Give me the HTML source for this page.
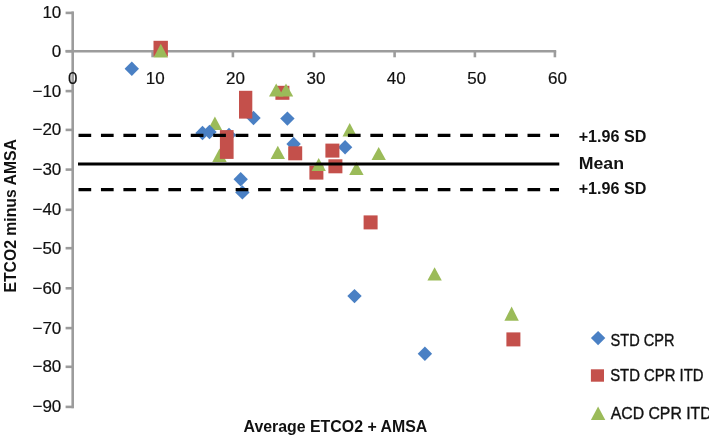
<!DOCTYPE html>
<html><head><meta charset="utf-8"><style>
html,body{margin:0;padding:0;background:#fff;width:709px;height:438px;overflow:hidden}
svg{display:block;will-change:transform;filter:blur(0.35px)}
text{font-family:"Liberation Sans",sans-serif;fill:#111}
.t{font-size:17px} .t text{stroke:#111;stroke-width:0.2px} .l text{stroke:#111;stroke-width:0.35px}
.b{font-size:16.5px;font-weight:bold}
.l{font-size:16px}
</style></head><body>
<svg width="709" height="438" viewBox="0 0 709 438">
<rect width="709" height="438" fill="#fff"/>
<g><line x1="72.7" y1="11.6" x2="72.7" y2="408.2" stroke="#9c9c9c" stroke-width="2.6"/><line x1="65.6" y1="12.9" x2="73.5" y2="12.9" stroke="#9c9c9c" stroke-width="2.6"/><line x1="65.6" y1="51.2" x2="73.5" y2="51.2" stroke="#9c9c9c" stroke-width="2.6"/><line x1="65.6" y1="91.1" x2="73.5" y2="91.1" stroke="#9c9c9c" stroke-width="2.6"/><line x1="65.6" y1="129.9" x2="73.5" y2="129.9" stroke="#9c9c9c" stroke-width="2.6"/><line x1="65.6" y1="169.6" x2="73.5" y2="169.6" stroke="#9c9c9c" stroke-width="2.6"/><line x1="65.6" y1="209.8" x2="73.5" y2="209.8" stroke="#9c9c9c" stroke-width="2.6"/><line x1="65.6" y1="248.2" x2="73.5" y2="248.2" stroke="#9c9c9c" stroke-width="2.6"/><line x1="65.6" y1="288.3" x2="73.5" y2="288.3" stroke="#9c9c9c" stroke-width="2.6"/><line x1="65.6" y1="328.1" x2="73.5" y2="328.1" stroke="#9c9c9c" stroke-width="2.6"/><line x1="65.6" y1="366.8" x2="73.5" y2="366.8" stroke="#9c9c9c" stroke-width="2.6"/><line x1="65.6" y1="406.9" x2="73.5" y2="406.9" stroke="#9c9c9c" stroke-width="2.6"/><line x1="65.6" y1="51.2" x2="556.2" y2="51.2" stroke="#9c9c9c" stroke-width="2.6"/><line x1="152.6" y1="51.2" x2="152.6" y2="57.3" stroke="#9c9c9c" stroke-width="2.6"/><line x1="232.9" y1="51.2" x2="232.9" y2="57.3" stroke="#9c9c9c" stroke-width="2.6"/><line x1="314.0" y1="51.2" x2="314.0" y2="57.3" stroke="#9c9c9c" stroke-width="2.6"/><line x1="394.6" y1="51.2" x2="394.6" y2="57.3" stroke="#9c9c9c" stroke-width="2.6"/><line x1="474.9" y1="51.2" x2="474.9" y2="57.3" stroke="#9c9c9c" stroke-width="2.6"/><line x1="554.9" y1="51.2" x2="554.9" y2="57.3" stroke="#9c9c9c" stroke-width="2.6"/></g>
<g class="t"><text x="61.3" y="18.3" text-anchor="end">10</text><text x="61.3" y="56.6" text-anchor="end">0</text><text x="61.3" y="96.5" text-anchor="end">−10</text><text x="61.3" y="135.3" text-anchor="end">−20</text><text x="61.3" y="175.0" text-anchor="end">−30</text><text x="61.3" y="215.2" text-anchor="end">−40</text><text x="61.3" y="253.6" text-anchor="end">−50</text><text x="61.3" y="293.7" text-anchor="end">−60</text><text x="61.3" y="333.5" text-anchor="end">−70</text><text x="61.3" y="372.2" text-anchor="end">−80</text><text x="61.3" y="412.3" text-anchor="end">−90</text><text x="72.8" y="84.4" text-anchor="middle">0</text><text x="155.2" y="84.4" text-anchor="middle">10</text><text x="235.5" y="84.4" text-anchor="middle">20</text><text x="316.0" y="84.4" text-anchor="middle">30</text><text x="396.3" y="84.4" text-anchor="middle">40</text><text x="476.8" y="84.4" text-anchor="middle">50</text><text x="557.4" y="84.4" text-anchor="middle">60</text></g>
<g><path d="M219.5 148.5L226.7 162.0L212.3 162.0Z" fill="#9BBB59"/><path d="M214.9 116.5L222.1 130.0L207.7 130.0Z" fill="#9BBB59"/><path d="M131.8 61.5L139.0 68.7L131.8 75.9L124.6 68.7Z" fill="#4A80C4"/><path d="M202.5 125.8L209.7 133.0L202.5 140.2L195.3 133.0Z" fill="#4A80C4"/><path d="M209.5 124.8L216.7 132.0L209.5 139.2L202.3 132.0Z" fill="#4A80C4"/><path d="M229.0 127.8L236.2 135.0L229.0 142.2L221.8 135.0Z" fill="#4A80C4"/><path d="M253.5 110.8L260.7 118.0L253.5 125.2L246.3 118.0Z" fill="#4A80C4"/><path d="M240.7 172.0L247.9 179.2L240.7 186.4L233.5 179.2Z" fill="#4A80C4"/><path d="M242.4 185.2L249.6 192.4L242.4 199.6L235.2 192.4Z" fill="#4A80C4"/><path d="M287.4 111.4L294.6 118.6L287.4 125.8L280.2 118.6Z" fill="#4A80C4"/><path d="M293.6 136.8L300.8 144.0L293.6 151.2L286.4 144.0Z" fill="#4A80C4"/><path d="M345.1 140.1L352.3 147.3L345.1 154.5L337.9 147.3Z" fill="#4A80C4"/><path d="M354.5 288.9L361.7 296.1L354.5 303.3L347.3 296.1Z" fill="#4A80C4"/><path d="M424.9 346.5L432.1 353.7L424.9 360.9L417.7 353.7Z" fill="#4A80C4"/><rect x="153.5" y="40.8" width="14.4" height="15.7" fill="#C4504B"/><rect x="239.0" y="90.8" width="13.3" height="27.8" fill="#C4504B"/><rect x="219.9" y="130.1" width="13.7" height="28.8" fill="#C4504B"/><rect x="275.4" y="85.8" width="14.0" height="14.0" fill="#C4504B"/><rect x="288.2" y="146.3" width="14.0" height="14.0" fill="#C4504B"/><rect x="309.4" y="165.6" width="14.0" height="14.0" fill="#C4504B"/><rect x="325.4" y="143.6" width="14.0" height="14.0" fill="#C4504B"/><rect x="328.4" y="159.3" width="14.0" height="14.0" fill="#C4504B"/><rect x="363.6" y="215.4" width="14.0" height="14.0" fill="#C4504B"/><rect x="506.4" y="332.4" width="14.0" height="14.0" fill="#C4504B"/><path d="M160.8 43.7L168.0 57.4L153.6 57.4Z" fill="#9BBB59"/><path d="M276.2 83.5L283.4 96.6L269.0 96.6Z" fill="#9BBB59"/><path d="M286.0 83.5L293.2 96.6L278.8 96.6Z" fill="#9BBB59"/><path d="M277.8 145.8L285.0 159.0L270.6 159.0Z" fill="#9BBB59"/><path d="M318.7 158.1L325.9 171.1L311.5 171.1Z" fill="#9BBB59"/><path d="M349.7 123.0L356.9 136.6L342.5 136.6Z" fill="#9BBB59"/><path d="M356.4 162.1L363.6 174.9L349.2 174.9Z" fill="#9BBB59"/><path d="M378.7 147.0L385.9 160.1L371.5 160.1Z" fill="#9BBB59"/><path d="M434.6 267.2L441.8 280.6L427.4 280.6Z" fill="#9BBB59"/><path d="M511.6 306.6L518.8 320.8L504.4 320.8Z" fill="#9BBB59"/></g>
<g><line x1="78.5" y1="135.3" x2="559" y2="135.3" stroke="#000" stroke-width="3.2" stroke-dasharray="12.7 9.75"/><line x1="78" y1="164" x2="559.3" y2="164" stroke="#000" stroke-width="3.2"/><line x1="78.5" y1="189.6" x2="559" y2="189.6" stroke="#000" stroke-width="3.2" stroke-dasharray="12.7 9.75"/></g>
<g class="b"><text x="578.7" y="141.7" textLength="67.7" lengthAdjust="spacingAndGlyphs">+1.96 SD</text><text x="578.7" y="168.8" textLength="45.3" lengthAdjust="spacingAndGlyphs">Mean</text><text x="578.7" y="194.0" textLength="67.7" lengthAdjust="spacingAndGlyphs">+1.96 SD</text><text x="243.5" y="432" textLength="183.8" lengthAdjust="spacingAndGlyphs">Average ETCO2 + AMSA</text><text transform="translate(16.2 292.6) rotate(-90)" x="0" y="0" textLength="153.5" lengthAdjust="spacingAndGlyphs">ETCO2 minus AMSA</text></g>
<g class="l"><path d="M598.1 330.90000000000003L605.3000000000001 338.1L598.1 345.3L590.9 338.1Z" fill="#4A80C4"/><rect x="590.9" y="369.3" width="13.1" height="12.4" fill="#C4504B"/><path d="M598.1 406.5L605.3 420L590.9 420Z" fill="#9BBB59"/><text x="610.6" y="345.9" textLength="64" lengthAdjust="spacingAndGlyphs">STD CPR</text><text x="610.2" y="380.6" textLength="93.4" lengthAdjust="spacingAndGlyphs">STD CPR ITD</text><text x="610.7" y="418.6" textLength="101" lengthAdjust="spacingAndGlyphs">ACD CPR ITD</text></g>
</svg>
</body></html>
